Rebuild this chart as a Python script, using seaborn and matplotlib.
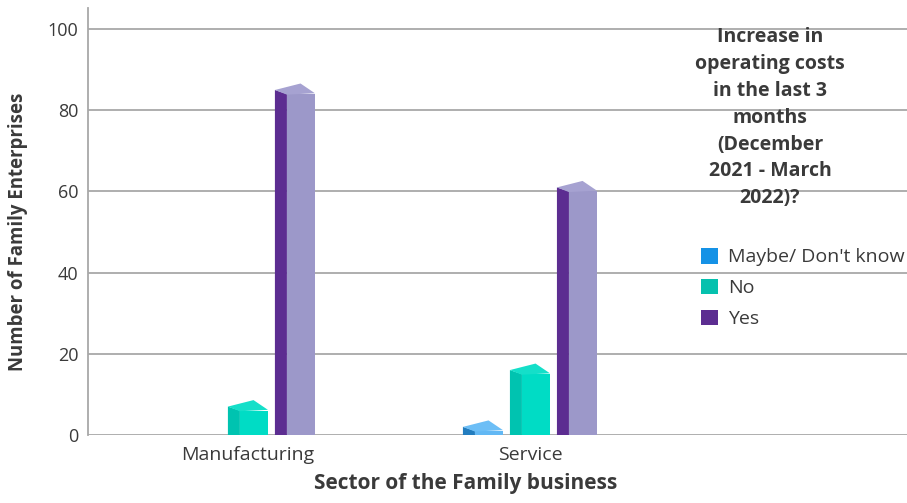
import matplotlib
matplotlib.use("Agg")
import matplotlib.pyplot as plt
from matplotlib.patches import Polygon, Patch
import seaborn as sns
import pandas as pd

# Survey responses per sector
sectors = ["Manufacturing", "Service"]
answers = ["Maybe/ Don't know", "No", "Yes"]
maybe_counts = [0, 1]
no_counts = [6, 15]
yes_counts = [84, 60]
y_ticks = [0, 20, 40, 60, 80, 100]

legend_title = "Increase in\noperating costs\nin the last 3\nmonths\n(December\n2021 - March\n2022)?"

rows = []
for ans, vals in zip(answers, [maybe_counts, no_counts, yes_counts]):
    for sec, v in zip(sectors, vals):
        rows.append({"sector": sec, "answer": ans, "count": v})
df = pd.DataFrame(rows)

# Face colours for the pseudo-3D columns
front_cols = {"Maybe/ Don't know": "#62b8f4", "No": "#00dcc5", "Yes": "#9c98c9"}
side_cols = {"Maybe/ Don't know": "#237dbf", "No": "#00c3b0", "Yes": "#5c2d91"}
top_cols = {"Maybe/ Don't know": "#6cbef6", "No": "#14dfc9", "Yes": "#a6a2d1"}
legend_cols = {"Maybe/ Don't know": "#1592e6", "No": "#05c1ae", "Yes": "#5c2d91"}

sns.set_theme(style="white")
plt.rcParams["font.family"] = ["Open Sans", "DejaVu Sans"]
text_col = "#3a3a3a"
grid_col = "#a8a8a8"

fig = plt.figure(figsize=(9.07, 5.03), dpi=100)
ax = fig.add_axes([88 / 907, 68 / 503, 1 - 88 / 907, (503 - 68 - 8) / 503])

sns.barplot(data=df, x="sector", y="count", hue="answer", hue_order=answers,
            order=sectors, palette=front_cols, width=0.5, saturation=1,
            legend=False, ax=ax, zorder=3)

ax.set_xlim(-0.567, 2.337)
ax.set_ylim(0, 105.2)

# Turn each flat bar into a box: left side face, front face and top face
for ans, cont in zip(answers, ax.containers):
    for bar in cont:
        h = bar.get_height()
        x0 = bar.get_x()
        slot = bar.get_width()
        if h <= 0:
            bar.set_visible(False)
            continue
        side_w = slot * 12 / 47
        front_w = slot * 28 / 47
        sx = x0 + slot * 3.5 / 47
        fx = sx + side_w
        bar.set_x(fx)
        bar.set_width(front_w)
        bar.set_edgecolor("none")
        side = Polygon([(sx, 0), (fx, 0), (fx, h), (sx, h + 1.0)],
                       closed=True, facecolor=side_cols[ans], edgecolor="none", zorder=3)
        top = Polygon([(sx, h + 1.0), (fx, h - 0.15), (fx + front_w, h + 0.35 - 0.15),
                       (fx + front_w - side_w * 1.2, h + 2.6)],
                      closed=True, facecolor=top_cols[ans], edgecolor="none", zorder=4)
        ax.add_patch(side)
        ax.add_patch(top)

# Axes styling
ax.set_yticks(y_ticks)
ax.yaxis.grid(True, color=grid_col, linewidth=1.3, zorder=0)
ax.xaxis.grid(False)
ax.set_axisbelow(True)
for s in ["top", "right", "bottom"]:
    ax.spines[s].set_visible(False)
ax.spines["left"].set_color(grid_col)
ax.spines["left"].set_linewidth(1.3)
ax.tick_params(axis="both", length=0, colors=text_col)
ax.tick_params(axis="y", pad=7, labelsize=13)
ax.tick_params(axis="x", pad=8, labelsize=14)

ax.set_ylabel("Number of Family Enterprises", fontsize=13.4, fontweight="bold", color=text_col)
ax.yaxis.set_label_coords(-0.073, 0.475)
ax.set_xlabel("Sector of the Family business", fontsize=15, fontweight="bold", color=text_col)
ax.xaxis.set_label_coords(0.4615, -0.090)

# Legend with its title set above
fig.text(770 / 907, 1 - 27 / 503, legend_title, ha="center", va="top",
         fontsize=14, fontweight="bold", color=text_col, linespacing=1.46)
handles = [Patch(facecolor=legend_cols[a], edgecolor="none", label=a) for a in answers]
leg = fig.legend(handles=handles, loc="upper left", bbox_to_anchor=(701 / 907, 1 - 248 / 503),
                 frameon=False, fontsize=14, handlelength=0.85, handleheight=0.85,
                 handletextpad=0.55, labelspacing=0.64, borderpad=0, borderaxespad=0)
for t in leg.get_texts():
    t.set_color(text_col)

fig.savefig("out.png", dpi=100, facecolor="white")
